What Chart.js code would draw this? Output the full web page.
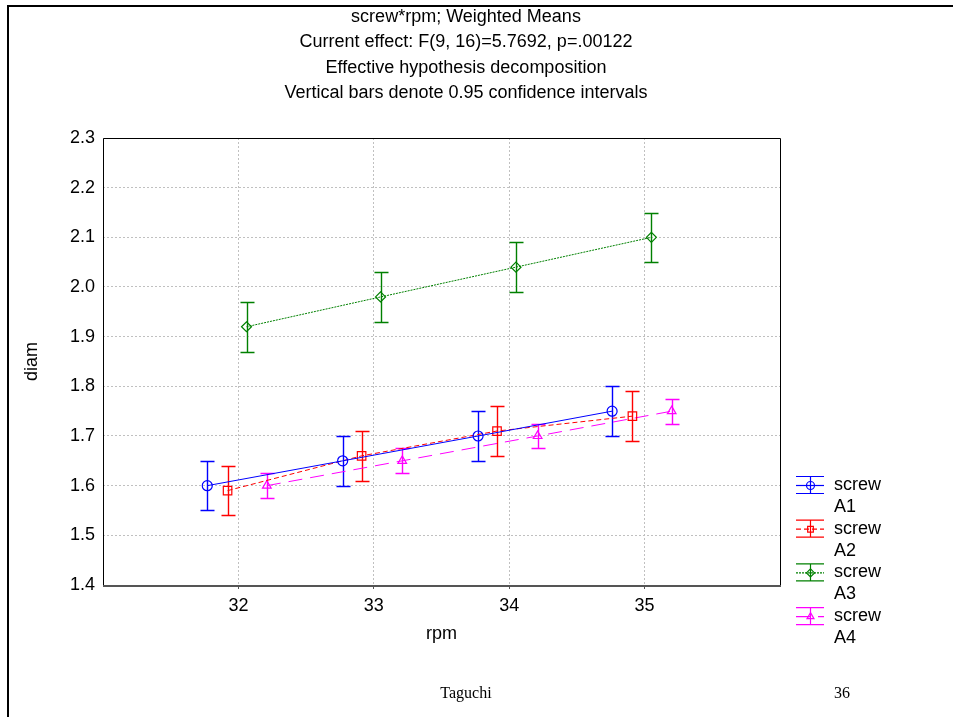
<!DOCTYPE html>
<html>
<head>
<meta charset="utf-8">
<script src="https://cdn.jsdelivr.net/npm/chart.js@4.4.1/dist/chart.umd.min.js"></script>
<style>
  html, body { margin: 0; padding: 0; background: #fff; }
  #wrap { position: relative; width: 953px; height: 717px; }
</style>
</head>
<body>
<div id="wrap"><canvas id="myChart" width="953" height="717"></canvas></div>
<script>
// values
const titleLines = [
  'screw*rpm; Weighted Means',
  'Current effect: F(9, 16)=5.7692, p=.00122',
  'Effective hypothesis decomposition',
  'Vertical bars denote 0.95 confidence intervals'
];
const rpmTicks = [32, 33, 34, 35];
const seriesNames = ['A1', 'A2', 'A3', 'A4'];

const a1Rpm = [31.77, 32.77, 33.77, 34.76];
const a1Diam = [1.60, 1.65, 1.70, 1.75];
const a1Lo = [1.55, 1.60, 1.65, 1.70];
const a1Hi = [1.65, 1.70, 1.75, 1.80];

const a2Rpm = [31.92, 32.91, 33.91, 34.91];
const a2Diam = [1.59, 1.66, 1.71, 1.74];
const a2Lo = [1.54, 1.61, 1.66, 1.69];
const a2Hi = [1.64, 1.71, 1.76, 1.79];

const a3Rpm = [32.06, 33.05, 34.05, 35.05];
const a3Diam = [1.92, 1.98, 2.04, 2.10];
const a3Lo = [1.87, 1.93, 1.99, 2.05];
const a3Hi = [1.97, 2.03, 2.09, 2.15];

const a4Rpm = [32.21, 33.21, 34.21, 35.20];
const a4Diam = [1.60, 1.65, 1.70, 1.75];
const a4Lo = [1.575, 1.625, 1.675, 1.725];
const a4Hi = [1.625, 1.675, 1.725, 1.775];

const font = 'Arial, "Liberation Sans", sans-serif';
const fontSize = 18;

const makeSet = (name, xs, ys, lo, hi, color, dash, style) => ({
  label: name,
  data: xs.map((x, i) => ({ x: x, y: ys[i] })),
  lo: lo,
  hi: hi,
  borderColor: color,
  backgroundColor: 'rgba(0,0,0,0)',
  borderWidth: 1,
  borderDash: dash,
  pointStyle: style,
  pointRadius: style === 'rect' ? 6 : 5,
  pointBorderWidth: 1.2,
  pointBorderColor: color,
  pointBackgroundColor: 'rgba(0,0,0,0)',
  showLine: true,
  tension: 0
});

const chartData = {
  datasets: [
    makeSet(seriesNames[0], a1Rpm, a1Diam, a1Lo, a1Hi, '#0000ff', [], 'circle'),
    makeSet(seriesNames[1], a2Rpm, a2Diam, a2Lo, a2Hi, '#ff0000', [5, 3], 'rect'),
    makeSet(seriesNames[2], a3Rpm, a3Diam, a3Lo, a3Hi, '#008000', [2, 1], 'rectRot'),
    makeSet(seriesNames[3], a4Rpm, a4Diam, a4Lo, a4Hi, '#ff00ff', [14, 8], 'triangle')
  ]
};

// error bars, frame, legend, titles and footer
const extras = {
  id: 'extras',
  beforeDatasetsDraw(chart) {
    const { ctx, scales: { x, y } } = chart;
    ctx.save();
    ctx.lineWidth = 1.4;
    chart.data.datasets.forEach(ds => {
      ctx.strokeStyle = ds.borderColor;
      ds.data.forEach((p, i) => {
        const px = Math.round(x.getPixelForValue(p.x)) + 0.5;
        const yl = Math.round(y.getPixelForValue(ds.lo[i])) + 0.5;
        const yh = Math.round(y.getPixelForValue(ds.hi[i])) + 0.5;
        ctx.beginPath();
        ctx.moveTo(px, yl); ctx.lineTo(px, yh);
        ctx.moveTo(px - 7, yl); ctx.lineTo(px + 7, yl);
        ctx.moveTo(px - 7, yh); ctx.lineTo(px + 7, yh);
        ctx.stroke();
      });
    });
    ctx.restore();
  },
  afterDraw(chart) {
    const { ctx, chartArea: a } = chart;
    ctx.save();
    // plot frame
    ctx.strokeStyle = '#000';
    ctx.lineWidth = 1;
    ctx.beginPath();
    ctx.moveTo(a.left + 0.5, a.bottom); ctx.lineTo(a.left + 0.5, a.top + 0.5);
    ctx.lineTo(a.right + 0.5, a.top + 0.5); ctx.lineTo(a.right + 0.5, a.bottom);
    ctx.stroke();
    ctx.strokeStyle = '#555';
    ctx.lineWidth = 2;
    ctx.beginPath();
    ctx.moveTo(a.left, a.bottom + 1); ctx.lineTo(a.right + 1, a.bottom + 1);
    ctx.stroke();

    // page frame
    ctx.strokeStyle = '#000';
    ctx.lineWidth = 2;
    ctx.beginPath();
    ctx.moveTo(8, 717); ctx.lineTo(8, 6); ctx.lineTo(953, 6);
    ctx.stroke();

    // titles
    ctx.fillStyle = '#000';
    ctx.font = fontSize + 'px ' + font;
    ctx.textAlign = 'center';
    ctx.textBaseline = 'middle';
    titleLines.forEach((t, i) => ctx.fillText(t, 466, 17 + i * 25.5));

    // legend
    ctx.textAlign = 'left';
    chart.data.datasets.forEach((ds, i) => {
      const cy = 485 + i * 43.7;
      const cx = 810;
      ctx.strokeStyle = ds.borderColor;
      ctx.fillStyle = 'rgba(0,0,0,0)';
      ctx.lineWidth = 1.2;
      ctx.setLineDash([]);
      ctx.beginPath();
      ctx.moveTo(796, cy - 8.5); ctx.lineTo(824, cy - 8.5);
      ctx.moveTo(796, cy + 8.5); ctx.lineTo(824, cy + 8.5);
      ctx.moveTo(cx + 0.5, cy - 8); ctx.lineTo(cx + 0.5, cy + 8);
      ctx.stroke();
      ctx.setLineDash(ds.borderDash);
      ctx.beginPath();
      ctx.moveTo(796, cy + 0.5); ctx.lineTo(824, cy + 0.5);
      ctx.stroke();
      ctx.setLineDash([]);
      Chart.helpers.drawPoint(ctx, {
        pointStyle: ds.pointStyle, radius: 4, borderWidth: 1.2, rotation: 0
      }, cx + 0.5, cy + 0.5);
      ctx.fillStyle = '#000';
      ctx.font = fontSize + 'px ' + font;
      ctx.fillText('screw', 834, cy);
      ctx.fillText(ds.label, 834, cy + 22);
    });

    // footer
    ctx.font = '16px "Liberation Serif", "Times New Roman", serif';
    ctx.textAlign = 'center';
    ctx.fillText('Taguchi', 466, 694);
    ctx.fillText('36', 842, 694);
    ctx.restore();
  }
};

const ctx = document.getElementById('myChart');
const chart = new Chart(ctx, {
  type: 'scatter',
  data: chartData,
  plugins: [extras],
  options: {
    responsive: false,
    animation: false,
    layout: { padding: { left: 0, top: 138, right: 173, bottom: 0 } },
    plugins: {
      legend: { display: false },
      title: { display: false },
      tooltip: { enabled: false }
    },
    scales: {
      x: {
        type: 'linear',
        min: 31,
        max: 36,
        afterBuildTicks: scale => { scale.ticks = rpmTicks.map(v => ({ value: v })); },
        afterFit: scale => { scale.height = 717 - 585; },
        ticks: { color: '#000', padding: 6, font: { family: font, size: fontSize } },
        grid: { color: '#c0c0c0', drawTicks: true, tickLength: 4, tickColor: '#555' },
        border: { display: false, dash: [2, 2] },
        title: {
          display: true, text: 'rpm', color: '#000',
          font: { family: font, size: fontSize }, padding: { top: 0, bottom: 72 }
        }
      },
      y: {
        type: 'linear',
        min: 1.4,
        max: 2.3,
        afterBuildTicks: scale => {
          const t = [];
          for (let v = 14; v <= 23; v++) t.push({ value: v / 10 });
          scale.ticks = t;
        },
        afterFit: scale => { scale.width = 103; },
        ticks: {
          color: '#000', padding: 8, font: { family: font, size: fontSize },
          callback: v => v.toFixed(1)
        },
        grid: { color: '#c0c0c0', drawTicks: false },
        border: { display: false, dash: [2, 2] },
        title: {
          display: true, text: 'diam', color: '#000',
          font: { family: font, size: fontSize }, padding: { top: 21, bottom: 0 }
        }
      }
    }
  }
});
</script>
</body>
</html>
